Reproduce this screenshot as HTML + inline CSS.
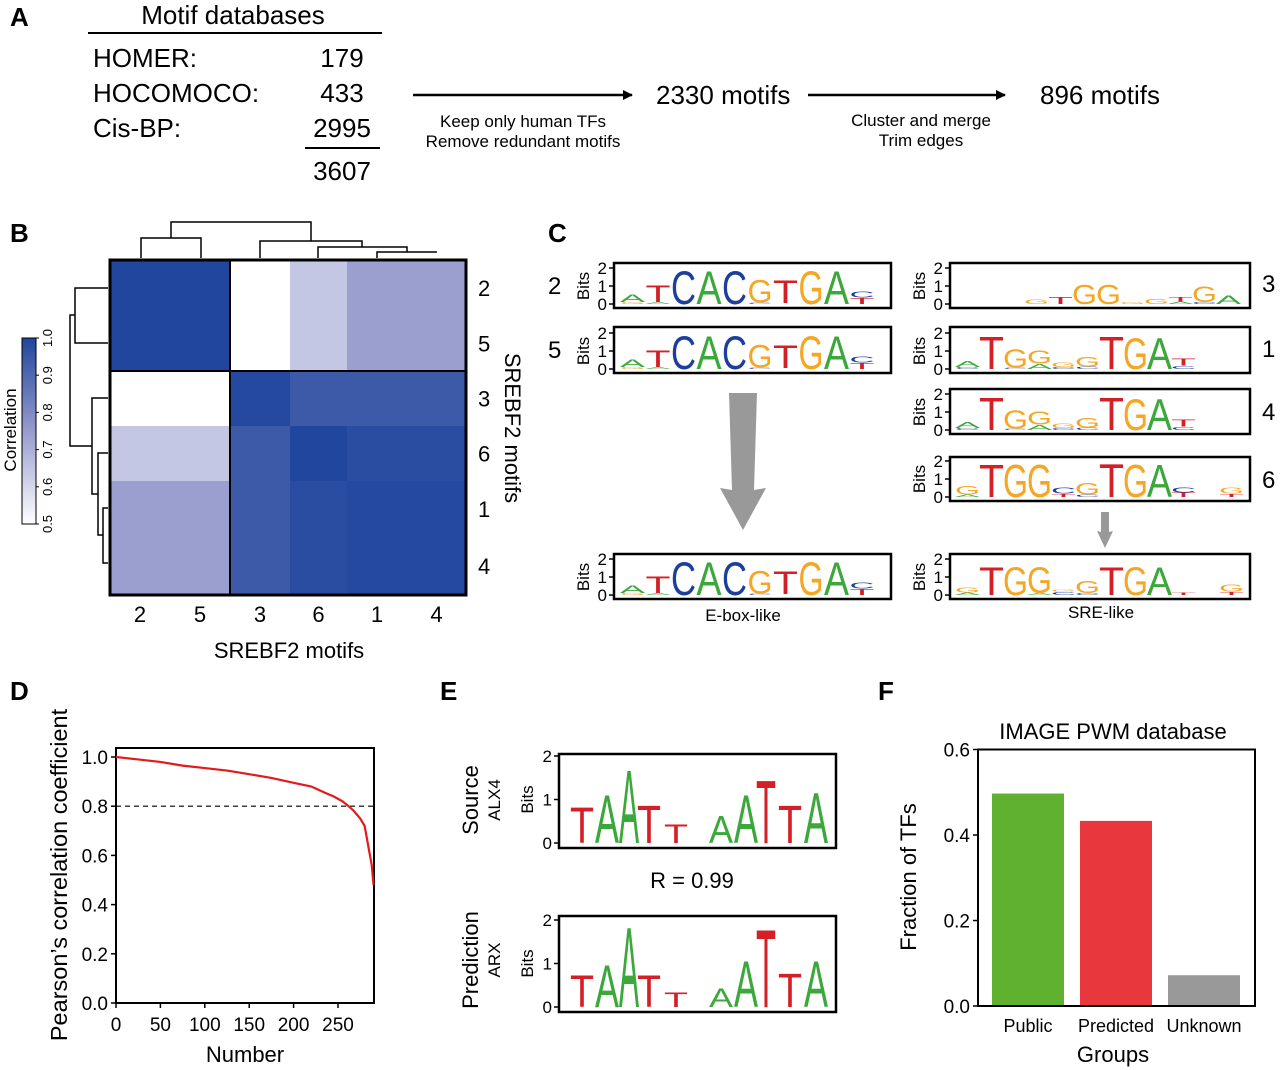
<!DOCTYPE html>
<html><head><meta charset="utf-8"><style>
html,body{margin:0;padding:0;background:#fff;}
svg{display:block;font-family:"Liberation Sans",Arial,sans-serif;}
</style></head><body>
<svg id="fig" width="1280" height="1070" viewBox="0 0 1280 1070" xmlns="http://www.w3.org/2000/svg">
<defs><marker id="ah" markerWidth="10" markerHeight="10" refX="9" refY="5" orient="auto" markerUnits="userSpaceOnUse"><path d="M0,0 L10,5 L0,10 z" fill="#000"/></marker></defs>
<g font-weight="bold" font-size="26">
<text x="10" y="26">A</text>
<text x="10" y="242">B</text>
<text x="548" y="242">C</text>
<text x="10" y="700">D</text>
<text x="440" y="700">E</text>
<text x="878" y="700">F</text>
</g>
<g font-size="26">
<text x="233" y="24" text-anchor="middle">Motif databases</text>
<line x1="88" y1="33" x2="382" y2="33" stroke="#000" stroke-width="2"/>
<text x="93" y="67">HOMER:</text>
<text x="342" y="67" text-anchor="middle">179</text>
<text x="93" y="102">HOCOMOCO:</text>
<text x="342" y="102" text-anchor="middle">433</text>
<text x="93" y="137">Cis-BP:</text>
<text x="342" y="137" text-anchor="middle">2995</text>
<line x1="305" y1="148" x2="380" y2="148" stroke="#000" stroke-width="2"/>
<text x="342" y="180" text-anchor="middle">3607</text>
<line x1="413" y1="95" x2="632" y2="95" stroke="#000" stroke-width="2.5" marker-end="url(#ah)"/>
<text x="523" y="127" font-size="17" text-anchor="middle">Keep only human TFs</text>
<text x="523" y="147" font-size="17" text-anchor="middle">Remove redundant motifs</text>
<text x="656" y="104">2330 motifs</text>
<line x1="808" y1="95" x2="1005" y2="95" stroke="#000" stroke-width="2.5" marker-end="url(#ah)"/>
<text x="921" y="126" font-size="17" text-anchor="middle">Cluster and merge</text>
<text x="921" y="146" font-size="17" text-anchor="middle">Trim edges</text>
<text x="1040" y="104">896 motifs</text>
</g>
<g id="panelB"></g>
<g id="panelC"></g>
<g id="panelD"></g>
<g id="panelE"></g>
<g id="panelF"></g>
</svg>
<script>
const NS="http://www.w3.org/2000/svg";
function mk(p,t,a,txt){const e=document.createElementNS(NS,t);for(const k in a)e.setAttribute(k,a[k]);if(txt!=null)e.textContent=txt;p.appendChild(e);return e;}
const hmLabels=["2","5","3","6","1","4"];
const hmValues=[
[1.0,1.0,0.5,0.64,0.74,0.74],
[1.0,1.0,0.5,0.64,0.74,0.74],
[0.5,0.5,0.99,0.94,0.94,0.94],
[0.64,0.64,0.94,1.0,0.98,0.98],
[0.74,0.74,0.94,0.98,0.99,0.99],
[0.74,0.74,0.94,0.98,0.99,0.99]];
const cbTicks=["0.5","0.6","0.7","0.8","0.9","1.0"];
function corrColor(v){const t=Math.max(0,Math.min(1,(v-0.5)/0.5));const lo=[255,255,255],mid=[150,155,205],hi=[33,70,158];
let c;if(t<0.5){const u=t/0.5;c=lo.map((x,i)=>x+(mid[i]-x)*u);}else{const u=(t-0.5)/0.5;c=mid.map((x,i)=>x+(hi[i]-x)*u);}
return "rgb("+c.map(Math.round).join(",")+")";}
(function(){
const g=document.getElementById('panelB');
const colEdges=[110,170,230,290,347,407,466];
const rowEdges=[260,316,371,426,481,537,595];
for(let r=0;r<6;r++)for(let c=0;c<6;c++){
const e=mk(g,'rect',{x:colEdges[c],y:rowEdges[r],width:colEdges[c+1]-colEdges[c]+0.5,height:rowEdges[r+1]-rowEdges[r]+0.5,fill:corrColor(hmValues[r][c])});

}
mk(g,'rect',{x:110,y:260,width:356,height:335,fill:'none',stroke:'#000','stroke-width':3});
mk(g,'line',{x1:230,y1:260,x2:230,y2:595,stroke:'#000','stroke-width':2});
mk(g,'line',{x1:110,y1:371,x2:466,y2:371,stroke:'#000','stroke-width':2});
for(let i=0;i<6;i++){
const cx=(colEdges[i]+colEdges[i+1])/2, cy=(rowEdges[i]+rowEdges[i+1])/2;
const t1=mk(g,'text',{x:cx,y:622,'font-size':22,'text-anchor':'middle'},hmLabels[i]);

const t2=mk(g,'text',{x:478,y:cy+8,'font-size':22},hmLabels[i]);
}
const xt=mk(g,'text',{x:289,y:658,'font-size':22,'text-anchor':'middle'},'SREBF2 motifs');

const yt=mk(g,'text',{x:0,y:0,'font-size':22,'text-anchor':'middle',transform:'translate(505,428) rotate(90)'},'SREBF2 motifs');

const top='M141,258 V238 H201 V258 M377,258 V252 H437 V252 M318,258 V247 H407 V252 M260,258 V241 H362 V247 M171,238 V222 H311 V241';
mk(g,'path',{d:top,fill:'none',stroke:'#000','stroke-width':1.5});
mk(g,'path',{d:'M108,288 H75 V343 H108 M108,508 H103 V563 H108 M108,453 H98 V535 H103 M108,398 H92 V494 H98 M75,315 H70 V446 H92',fill:'none',stroke:'#000','stroke-width':1.5});
const gr=mk(g,'linearGradient',{id:'cbg',x1:0,y1:1,x2:0,y2:0});
for(let i=0;i<=10;i++){mk(gr,'stop',{offset:i/10,'stop-color':corrColor(0.5+i*0.05)});}
mk(g,'rect',{x:22,y:338,width:14,height:186,fill:'url(#cbg)',stroke:'#000','stroke-width':1});
for(let i=0;i<cbTicks.length;i++){const y=524-i*186/5;
mk(g,'line',{x1:36,y1:y,x2:39,y2:y,stroke:'#000'});
const t=mk(g,'text',{x:0,y:0,'font-size':13,'text-anchor':'middle',transform:`translate(52,${y}) rotate(-90)`},cbTicks[i]);
}
const cl=mk(g,'text',{x:0,y:0,'font-size':17,'text-anchor':'middle',transform:'translate(16,430) rotate(-90)'},'Correlation');

})();
const COL={A:'#3ca83c',C:'#1c3f9c',G:'#f5a623',T:'#d41f26'};
function letter(g,ch,x,base,w,h){if(h<1)return;const adv=ch==='T'?61:(ch==='A'?67:(ch==='C'?72:78));
const t=mk(g,'text',{x:0,y:0,'font-size':100,fill:COL[ch],textLength:adv,lengthAdjust:'spacingAndGlyphs',transform:`translate(${x},${base}) scale(${w/adv},${h/72.5})`},ch);
}
function logo(g,x0,x1,y0,y1,zeroY,pxBit,cols,stacks,showBits,name){
const gg=mk(g,'g',{});
const n=stacks.length;const w=cols[1];
for(let i=0;i<n;i++){let base=zeroY;const x=cols[0]+i*cols[2];
for(const [ch,b] of stacks[i]){if(!ch)continue;const h=b*pxBit;letter(gg,ch,x,base,w,h);base-=h;}}
mk(gg,'rect',{x:x0,y:y0,width:x1-x0,height:y1-y0,fill:'none',stroke:'#000','stroke-width':2.5});
for(let b=0;b<=2;b++){const y=zeroY-b*pxBit;mk(gg,'line',{x1:x0-5,y1:y,x2:x0,y2:y,stroke:'#000','stroke-width':1.5});
mk(gg,'text',{x:x0-7,y:y+6,'font-size':showBits.fs,'text-anchor':'end'},String(b));}
mk(gg,'text',{x:0,y:0,'font-size':showBits.fs,'text-anchor':'middle',transform:`translate(${x0-showBits.off},${zeroY-pxBit}) rotate(-90)`},'Bits');
return gg;}
const eboxStacks=[[["G",0.1],["A",0.45]],[["A",0.1],["T",0.95]],[["C",1.9]],[["A",1.9]],[["C",1.9]],[["C",0.08],["G",1.3]],[["A",0.05],["T",1.3]],[["G",1.9]],[["A",1.9]],[["T",0.35],["C",0.35]]];
const sre3Stacks=[[],[],[],[["G",0.25]],[["T",0.4]],[["G",1.1]],[["G",1.1]],[["G",0.1]],[["G",0.3]],[["A",0.15],["T",0.25]],[["C",0.1],["G",0.9]],[["A",0.5]]];
const sre1Stacks=[[["C",0.1],["A",0.35]],[["T",1.85]],[["C",0.08],["G",1.05]],[["A",0.3],["G",0.75]],[["C",0.1],["G",0.25]],[["C",0.15],["G",0.55]],[["T",1.85]],[["G",1.8]],[["A",1.8]],[["C",0.2],["T",0.4]]];
const sre6Stacks=[[["A",0.15],["G",0.5]],[["T",1.85]],[["G",1.85]],[["G",1.85]],[["T",0.2],["C",0.35]],[["C",0.15],["G",0.65]],[["T",1.9]],[["G",1.85]],[["A",1.85]],[["T",0.25],["C",0.3]],[],[["T",0.2],["G",0.35]]];
const sreMStacks=[[["A",0.15],["G",0.3]],[["T",1.6]],[["G",1.6]],[["A",0.1],["G",1.5]],[["C",0.2],["G",0.1]],[["C",0.1],["G",0.7]],[["T",1.6]],[["G",1.6]],[["A",1.6]],[["T",0.15]],[],[["T",0.2],["G",0.4]]];
(function(){
const g=document.getElementById('panelC');
const bf={fs:17,off:25};
logo(g,614,891,263,308,304,18,[620,25,25.5],eboxStacks,bf,'logo-motif-2');
logo(g,614,891,327,373,369,18,[620,25,25.5],eboxStacks,bf,'logo-motif-5');
logo(g,614,891,554,599,595,18,[620,25,25.5],eboxStacks,bf,'logo-ebox-merged');
logo(g,950,1250,263,308,304,18,[952,25,24],sre3Stacks,bf,'logo-motif-3');
logo(g,950,1250,327,373,369,18,[955,25,24],sre1Stacks,bf,'logo-motif-1');
logo(g,950,1250,389,434,430,18,[955,25,24],sre1Stacks,bf,'logo-motif-4');
logo(g,950,1250,457,501,497,18,[955,25,24],sre6Stacks,bf,'logo-motif-6');
logo(g,950,1250,554,599,595,18,[955,25,24],sreMStacks,bf,'logo-sre-merged');
const nums=[["2",548,294],["5",548,358],["3",1262,292],["1",1262,357],["4",1262,420],["6",1262,488]];
for(const [t,x,y] of nums){const e=mk(g,'text',{x:x,y:y,'font-size':24},t);}
mk(g,'path',{d:'M729,393 H757 L754,490 L766,488 L743,530 L720,488 L732,490 Z',fill:'#999'});
mk(g,'path',{d:'M1101,512 H1109 V532 L1113,531 L1105,548 L1097,531 L1101,532 Z',fill:'#999'});
const a=mk(g,'text',{x:743,y:621,'font-size':17,'text-anchor':'middle'},'E-box-like');
const b=mk(g,'text',{x:1101,y:618,'font-size':17,'text-anchor':'middle'},'SRE-like');
})();
const dX=[0,25,50,75,100,125,150,175,200,220,235,245,255,262,268,275,280,283,286,288,290];
const dY=[1.0,0.99,0.98,0.965,0.955,0.945,0.93,0.915,0.895,0.88,0.855,0.84,0.82,0.80,0.78,0.75,0.72,0.66,0.6,0.56,0.48];
const dXTicks=[0,50,100,150,200,250];
const dYTicks=[0,0.2,0.4,0.6,0.8,1.0];
(function(){
const g=document.getElementById('panelD');
const sx=v=>116+v*(338-116)/250, sy=v=>1003-v*246;
mk(g,'rect',{x:116,y:748,width:258,height:255,fill:'none',stroke:'#000','stroke-width':2});
for(const t of dXTicks){mk(g,'line',{x1:sx(t),y1:1003,x2:sx(t),y2:1008,stroke:'#000','stroke-width':1.5});
const e=mk(g,'text',{x:sx(t),y:1031,'font-size':19,'text-anchor':'middle'},String(t));}
for(const t of dYTicks){mk(g,'line',{x1:111,y1:sy(t),x2:116,y2:sy(t),stroke:'#000','stroke-width':1.5});
const e=mk(g,'text',{x:108,y:sy(t)+7,'font-size':19,'text-anchor':'end'},t.toFixed(1));}
const th=mk(g,'line',{x1:116,y1:sy(0.8),x2:374,y2:sy(0.8),stroke:'#000','stroke-width':1.2,'stroke-dasharray':'5,4'});

const pl=mk(g,'polyline',{points:dX.map((x,i)=>sx(x)+','+sy(dY[i])).join(' '),fill:'none',stroke:'#e31a1c','stroke-width':2.2});

const xt=mk(g,'text',{x:245,y:1062,'font-size':22,'text-anchor':'middle'},'Number');
const yt=mk(g,'text',{x:0,y:0,'font-size':23.5,'text-anchor':'middle',transform:'translate(67,875) rotate(-90)'},'Pearson’s correlation coefficient');
})();
const srcHeights=[0.85,1.15,1.75,0.9,0.45,0,0.65,1.15,1.5,0.9,1.2];
const prdHeights=[0.75,1.0,1.9,0.75,0.35,0,0.45,1.1,1.85,0.8,1.1];
const eLetters=["T","A","A","T","T","","A","A","T","T","A"];
(function(){
const g=document.getElementById('panelE');
const bf={fs:17,off:26};
const xs=[570,595,619,637,664,0,709,734,756,778,804];
function draw(y0,y1,zero,hs,name){
const gg=logo(g,559,836,y0,y1,zero,43.5,[0,0,0],[],bf,name);
for(let i=0;i<hs.length;i++){if(!eLetters[i])continue;
const w=(i===2||i===8)?20:24;letter(gg,eLetters[i],xs[i],zero,w,hs[i]*43.5);}}
draw(754,848,843,srcHeights,'logo-source-alx4');
draw(916,1012,1007,prdHeights,'logo-prediction-arx');
const lab=[["Source",478,800,22],["ALX4",500,800,17],["Prediction",478,960,22],["ARX",500,960,17]];
for(const [t,x,y,fs] of lab){const e=mk(g,'text',{x:0,y:0,'font-size':fs,'text-anchor':'middle',transform:`translate(${x},${y}) rotate(-90)`},t);}
const r=mk(g,'text',{x:692,y:888,'font-size':22,'text-anchor':'middle'},'R = 0.99');
})();
const fCats=["Public","Predicted","Unknown"];
const fVals=[0.497,0.433,0.072];
const fColors=["#5fb12f","#e8383d","#999999"];
const fTicks=[0,0.2,0.4,0.6];
(function(){
const g=document.getElementById('panelF');
const sy=v=>1006-v*(1006-749.5)/0.6;
const bx=i=>992+i*88;
for(let i=0;i<fCats.length;i++){
const b=mk(g,'rect',{x:bx(i),y:sy(fVals[i]),width:72,height:1006-sy(fVals[i]),fill:fColors[i]});

const t=mk(g,'text',{x:bx(i)+36,y:1032,'font-size':18,'text-anchor':'middle'},fCats[i]);
}
mk(g,'rect',{x:978,y:749.5,width:277,height:256.5,fill:'none',stroke:'#000','stroke-width':2});
for(const t of fTicks){mk(g,'line',{x1:973,y1:sy(t),x2:978,y2:sy(t),stroke:'#000','stroke-width':1.5});
const e=mk(g,'text',{x:970,y:sy(t)+7,'font-size':19,'text-anchor':'end'},t.toFixed(1));}
const ti=mk(g,'text',{x:1113,y:739,'font-size':22,'text-anchor':'middle'},'IMAGE PWM database');
const xt=mk(g,'text',{x:1113,y:1062,'font-size':22,'text-anchor':'middle'},'Groups');
const yt=mk(g,'text',{x:0,y:0,'font-size':22,'text-anchor':'middle',transform:'translate(916,877) rotate(-90)'},'Fraction of TFs');
})();
</script>
</body></html>
